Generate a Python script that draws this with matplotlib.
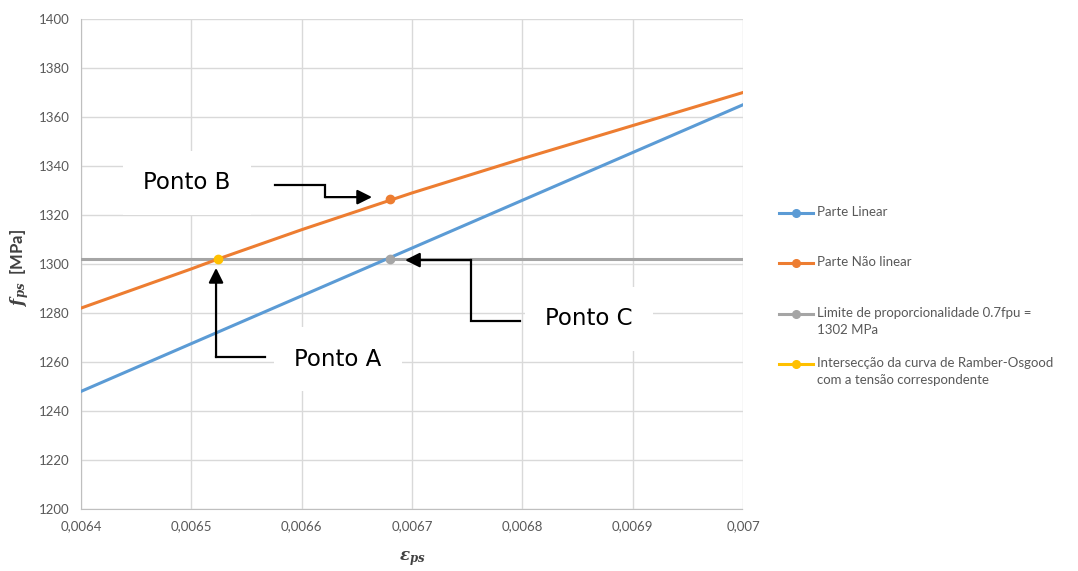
import matplotlib
matplotlib.use("Agg")
import matplotlib.pyplot as plt
from matplotlib.lines import Line2D
from matplotlib.ticker import FuncFormatter, MultipleLocator

plt.rcParams['font.family'] = ['Lato', 'DejaVu Sans']
plt.rcParams['mathtext.fontset'] = 'dejavuserif'

# strain values and stresses (MPa)
eps_linear = [0.0064, 0.0070]
fps_linear = [1248, 1365]

eps_nonlinear = [0.0064, 0.0065, 0.006524, 0.0066, 0.0067, 0.0068, 0.0069, 0.0070]
fps_nonlinear = [1282, 1298, 1302, 1314, 1329, 1343, 1356.5, 1370]

eps_limit = [0.0064, 0.0070]
fps_limit = [1302, 1302]

# marked points: A (intersection), B (on non-linear curve), C (end of linear part)
pt_a = (0.006524, 1302)
pt_b = (0.00668, 1326.5)
pt_c = (0.00668, 1302)

c_blue = '#5B9BD5'
c_orange = '#ED7D31'
c_gray = '#A5A5A5'
c_yellow = '#FFC000'
c_text = '#595959'

fig = plt.figure(figsize=(10.78, 5.71), dpi=100)
ax = fig.add_axes([81/1078, 1 - 509/571, (743-81)/1078, (509-19)/571])

ax.plot(eps_limit, fps_limit, color=c_gray, lw=2.2, zorder=3)
ax.plot(eps_linear, fps_linear, color=c_blue, lw=2.2, zorder=4)
ax.plot(eps_nonlinear, fps_nonlinear, color=c_orange, lw=2.2, zorder=4)
ax.plot(*pt_c, 'o', color=c_gray, ms=6, zorder=5)
ax.plot(*pt_b, 'o', color=c_orange, ms=6, zorder=5)
ax.plot(*pt_a, 'o', color=c_yellow, ms=6, zorder=5)

ax.set_xlim(0.0064, 0.0070)
ax.set_ylim(1200, 1400)
ax.xaxis.set_major_locator(MultipleLocator(0.0001))
ax.yaxis.set_major_locator(MultipleLocator(20))
ax.xaxis.set_major_formatter(FuncFormatter(
    lambda v, p: f"{v:.4f}".rstrip('0').replace('.', ',')))
ax.tick_params(length=0, labelsize=9.5, labelcolor=c_text, pad=8)
ax.grid(True, color='#D9D9D9', lw=1)
ax.set_axisbelow(True)
for s in ['top', 'right']:
    ax.spines[s].set_visible(False)
for s in ['left', 'bottom']:
    ax.spines[s].set_color('#BFBFBF')
    ax.spines[s].set_linestyle((0, (1, 1)))
    ax.spines[s].set_linewidth(0.8)

fig.text(412/1078, 1 - 559/571, r'$\mathbfit{\varepsilon_{ps}}$', ha='center',
         va='center', fontsize=12, color='#404040')
fig.text(20/1078, 1 - 267/571, r'$\mathbfit{f_{ps}}$  [MPa]', rotation=90,
         ha='center', va='center', fontsize=12, fontweight='bold', color='#404040')

# labels with white boxes
box = dict(boxstyle='square,pad=0.9', facecolor='white', edgecolor='none')
lbl = dict(fontsize=16.5, family='DejaVu Sans', ha='center', va='center', zorder=6, bbox=box)
ax.text(0.006496, 1333.1, 'Ponto B', **lbl)
ax.text(0.006633, 1261.2, 'Ponto A', **lbl)
ax.text(0.0068604, 1277.6, 'Ponto C', **lbl)

arrow = dict(arrowstyle='-|>', mutation_scale=22, lw=1.6, color='black',
             shrinkA=0, shrinkB=0)
# Ponto B arrow
ax.plot([0.0065758, 0.0066212, 0.0066212], [1332.2, 1332.2, 1327.3],
        color='black', lw=1.6, zorder=7, solid_joinstyle='miter')
ax.annotate('', xy=(0.0066638, 1327.3), xytext=(0.0066212, 1327.3),
            arrowprops=arrow, zorder=7)
# Ponto A arrow
ax.plot([0.0065668, 0.0065224], [1262.0, 1262.0], color='black', lw=1.6, zorder=7)
ax.annotate('', xy=(0.0065224, 1298.4), xytext=(0.0065224, 1262.0),
            arrowprops=arrow, zorder=7)
# Ponto C arrow
ax.plot([0.0067979, 0.0067535, 0.0067535], [1276.7, 1276.7, 1301.6],
        color='black', lw=1.6, zorder=7, solid_joinstyle='miter')
ax.annotate('', xy=(0.0066937, 1301.6), xytext=(0.0067535, 1301.6),
            arrowprops=arrow, zorder=7)

# legend entries, handle aligned with the first text line
legend_items = [
    (c_blue, 'Parte Linear', 213),
    (c_orange, 'Parte Não linear', 263),
    (c_gray, 'Limite de proporcionalidade 0.7fpu =\n1302 MPa', 314),
    (c_yellow, 'Intersecção da curva de Ramber-Osgood\ncom a tensão correspondente', 364),
]
for col, txt, py in legend_items:
    yf = 1 - py/571
    fig.add_artist(Line2D([779/1078, 813/1078], [yf, yf], color=col, lw=2.2))
    fig.add_artist(Line2D([796/1078], [yf], marker='o', color=col, ms=5.5))
    fig.text(817/1078, yf + 7/571, txt, ha='left', va='top', fontsize=9.5,
             color=c_text, linespacing=1.45)

fig.savefig('out.png', dpi=100)
